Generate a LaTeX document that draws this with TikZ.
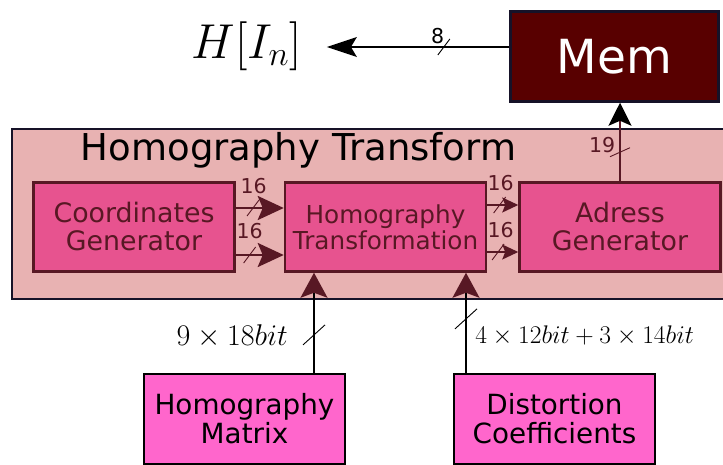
\documentclass[tikz,border=0pt]{standalone}
\usepackage{fix-cm}
\usepackage{fontspec}
\setmainfont{DejaVu Sans}
\usetikzlibrary{arrows.meta,positioning}

\definecolor{wine}{RGB}{88,24,36}
\definecolor{shell}{RGB}{232,178,178}
\definecolor{rosebox}{RGB}{231,83,143}
\definecolor{pinkbox}{RGB}{255,102,204}
\definecolor{memred}{RGB}{88,0,0}
\definecolor{ink}{RGB}{22,18,40}

\tikzset{
  bus/.pic={\draw[-, line width=0.9pt, shorten >=0pt, shorten <=0pt] (-6pt,-8pt) -- (6pt,8pt);},
  wbus/.pic={\draw[-, line width=0.9pt, shorten >=0pt, shorten <=0pt] (-11pt,-10pt) -- (11pt,10pt);},
  fbus/.pic={\draw[-, line width=0.9pt, shorten >=0pt, shorten <=0pt] (-10pt,-4.5pt) -- (10pt,4.5pt);}
}

\begin{document}
\begin{tikzpicture}[x=1pt, y=-1pt, >={Stealth[length=20pt,width=17pt,inset=5pt]},
    frame/.style={rectangle, draw=ink, line width=1.2pt, fill=shell, minimum width=712pt, minimum height=170pt},
    stage/.style={rectangle, draw=wine, line width=2.5pt, fill=rosebox, text=wine, minimum width=201pt, minimum height=89pt, align=center, font=\fontsize{26.8}{28}\selectfont},
    source/.style={rectangle, draw=black, line width=2pt, fill=pinkbox, minimum width=201pt, minimum height=90pt, align=center, font=\fontsize{27.8}{29}\selectfont},
    memory/.style={rectangle, draw=ink, line width=2.5pt, fill=memred, text=white, minimum width=208pt, minimum height=90pt, font=\fontsize{47}{47}\selectfont},
    bits/.style={font=\fontsize{20.5}{20.5}\selectfont, text=wine, inner sep=1pt},
    wide/.style={draw=wine, line width=2.5pt, -{Stealth[length=26pt,width=24pt,inset=5pt]}},
    thin/.style={draw=wine, line width=1.5pt, -{Stealth[length=16pt,width=15pt,inset=3pt]}},
    feed/.style={draw=black, line width=2pt, -{Stealth[length=25pt,width=27pt,inset=5pt,color=wine]}}]

    \useasboundingbox (0,0) rectangle (723,464);

    \node [frame] (tf) at (368,214) {};
    \node [font=\fontsize{37}{37}\selectfont] (title) at (298.5,150) {Homography Transform};

    \node [stage] (cg) at (134,227) {Coordinates\\Generator};
    \node [stage, right=48pt of cg, font=\fontsize{24.7}{26}\selectfont] (ht) {Homography\\Transformation};
    \node [stage, right=31pt of ht] (adr) {Adress\\Generator};

    \node [memory] (mem) at (614.5,56.5) {Mem};
    \node [font=\fontsize{49}{49}\selectfont] (hin) at (246.5,46) {$H[I_n]$};

    \node [source] (hm) at (244.5,419) {Homography\\Matrix};
    \node [source] (dc) at (554.5,419) {Distortion\\Coefficients};

    % coordinates -> transformation
    \path [wide] ([yshift=19pt]cg.east) -- pic[pos=.36, wine]{bus} node[bits, pos=.375, above=12pt] {16} ([yshift=19pt]ht.west);
    \path [wide] ([yshift=-28pt]cg.east) -- pic[pos=.29, wine]{bus} node[bits, pos=.29, above=14pt] {16} ([yshift=-28pt]ht.west);

    % transformation -> adress
    \path [thin] ([yshift=22pt]ht.east) -- pic[pos=.4, wine]{bus} node[bits, pos=.43, above=12pt] {16} ([yshift=22pt]adr.west);
    \path [thin] ([yshift=-25pt]ht.east) -- pic[pos=.35, wine]{bus} node[bits, pos=.43, above=12pt] {16} ([yshift=-25pt]adr.west);

    % adress -> memory -> output
    \draw [wine, line width=1.8pt, -{Stealth[length=23pt,width=23pt,inset=5pt,color=black]}] (adr.north) -- pic[pos=.37, wine]{fbus} node[bits, pos=.46, left=3pt] {19} (adr.north |- mem.south);
    \draw [black, line width=1.3pt, -{Stealth[length=30pt,width=20pt,inset=6pt]}, shorten >=22pt] ([yshift=9.5pt]mem.west) -- pic[pos=.32]{bus} node[bits, text=black, pos=.35, above=2pt] {8} (hin.east |- 0,47);

    % inputs
    \draw [feed] (hm.north -| 314,0) -- pic[pos=.38]{wbus} node[pos=.37, left=22pt, font=\fontsize{30}{30}\selectfont] {$9\times 18bit$} (ht.south -| 314,0);
    \draw [feed] (dc.north -| 466,0) -- pic[pos=.54]{wbus} node[pos=.37, right=5pt, font=\fontsize{25.5}{25.5}\selectfont] {$4\times 12bit+3\times 14bit$} (ht.south -| 466,0);

\end{tikzpicture}
\end{document}
